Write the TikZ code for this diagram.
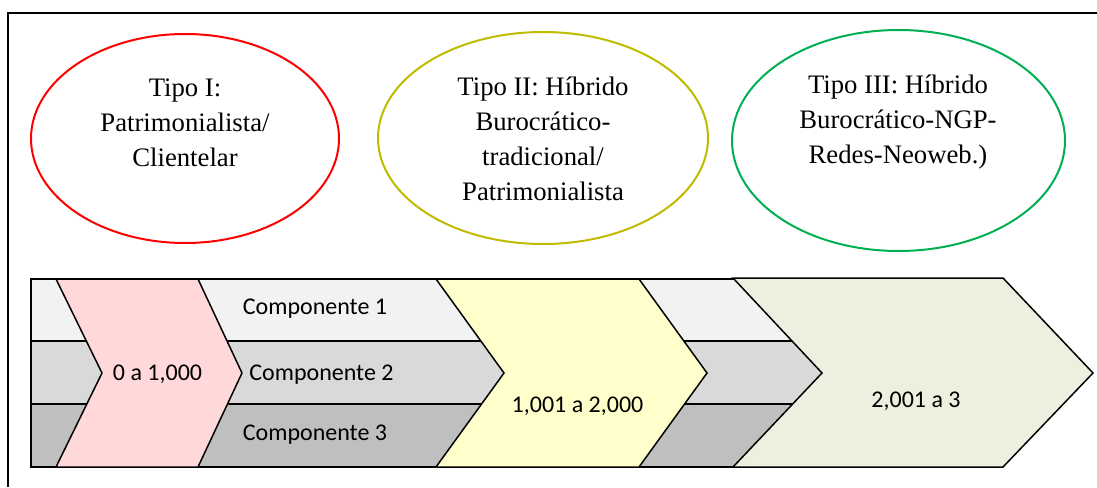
\documentclass[tikz,border=0pt]{standalone}
\usepackage{fontspec}
\setmainfont{Liberation Serif}
\newfontfamily\calibri{Carlito}
\definecolor{rowA}{HTML}{F2F2F2}
\definecolor{rowB}{HTML}{D9D9D9}
\definecolor{rowC}{HTML}{BFBFBF}
\definecolor{pinkfill}{HTML}{FFD9D9}
\definecolor{yellowfill}{HTML}{FFFFCC}
\definecolor{greenfill}{HTML}{EBF1DE}
\definecolor{oliveline}{HTML}{C0BA00}
\definecolor{greenline}{HTML}{00B050}
\begin{document}
\begin{tikzpicture}[x=1pt,y=-1pt,
  ovalline/.style={line width=2pt},
  ovaltext/.style={align=center,font=\fontsize{26.7}{35}\selectfont,inner sep=0pt},
  stripe/.style={draw=black,line width=1.5pt},
  chev/.style={draw=black,line width=1.5pt},
  ctext/.style={font=\calibri\fontsize{24}{29}\selectfont,inner sep=0pt,anchor=base}]
\useasboundingbox (0,0) rectangle (1097,487);
% frame
\draw[line width=2pt] (8,487) -- (8,13) -- (1097,13);
% ovals
\draw[ovalline,red] (185,138.5) ellipse [x radius=154, y radius=104.5];
\draw[ovalline,oliveline] (543,138) ellipse [x radius=165, y radius=106];
\draw[ovalline,greenline] (898.5,140.5) ellipse [x radius=166.5, y radius=110.5];
\node[ovaltext] (t1) at (185,123) {Tipo I:\\Patrimonialista/\\Clientelar};
\node[ovaltext] (t2) at (543,139) {Tipo II: Híbrido\\Burocrático-\\tradicional/\\Patrimonialista};
\node[ovaltext] (t3) at (898,122.5) {Tipo III: Híbrido\\Burocrático-NGP-\\Redes-Neoweb.)};
% stripes
\filldraw[stripe,fill=rowA] (31,279) rectangle (830,341);
\filldraw[stripe,fill=rowB] (31,341) rectangle (830,404);
\filldraw[stripe,fill=rowC] (31,404) rectangle (830,467);
% chevrons
\filldraw[chev,fill=pinkfill] (56,279) -- (198,279) -- (242,373) -- (198,467) -- (56,467) -- (102,373) -- cycle;
\filldraw[chev,fill=yellowfill] (436,279) -- (639,279) -- (707,373) -- (639,467) -- (436,467) -- (504,373) -- cycle;
\filldraw[chev,fill=greenfill] (733,278) -- (1003,278) -- (1093,373) -- (1003,467) -- (733,467) -- (822,373) -- cycle;
% texts
\node[ctext] (c1) at (315,314) {Componente 1};
\node[ctext] (c2) at (321.5,380) {Componente 2};
\node[ctext] (c3) at (315,440) {Componente 3};
\node[ctext] (p1) at (157.5,380) {0 a 1,000};
\node[ctext] (p2) at (577.5,412) {1,001 a 2,000};
\node[ctext] (p3) at (916,407) {2,001 a 3};
\end{tikzpicture}
\end{document}
